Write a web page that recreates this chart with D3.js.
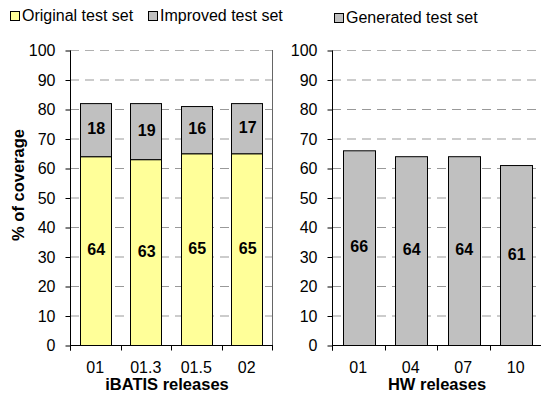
<!DOCTYPE html>
<html>
<head>
<meta charset="utf-8">
<script src="https://cdn.jsdelivr.net/npm/d3@7/dist/d3.min.js"></script>
<style>
  html, body { margin: 0; padding: 0; background: #fff; }
  svg { display: block; font-family: "Liberation Sans", Arial, sans-serif; }
</style>
</head>
<body>
<svg id="chart" width="541" height="396"></svg>
<script>
// iBATIS coverage: original vs. improved test sets
const ibatisReleases = ["01", "01.3", "01.5", "02"];
const originalCoverage = [64, 63, 65, 65];
const improvedCoverage = [18, 19, 16, 17];

// HW coverage: generated test set
const hwReleases = ["01", "04", "07", "10"];
const generatedCoverage = [66, 64, 64, 61];

const yTicks = [0, 10, 20, 30, 40, 50, 60, 70, 80, 90, 100];

const YELLOW = "#ffff99";
const GREY = "#c0c0c0";
const FONT = "Liberation Sans, Arial, sans-serif";

const svg = d3.select("#chart");

const y = d3.scaleLinear().domain([0, 100]).range([345, 50]);

function drawPanel(opts) {
  const g = svg.append("g");
  const x = d3.scaleBand()
    .domain(opts.categories)
    .range([opts.x0, opts.x1])
    .paddingInner(opts.pad)
    .paddingOuter(opts.pad / 2);

  // dashed gridlines
  g.append("g").selectAll("line")
    .data(yTicks.filter(d => d > 0))
    .join("line")
    .attr("x1", opts.x0).attr("x2", opts.x1)
    .attr("y1", d => y(d) + 0.5).attr("y2", d => y(d) + 0.5)
    .attr("stroke", d => d === 100 ? "#b0b0b0" : "#999")
    .attr("stroke-width", 1)
    .attr("stroke-dasharray", "9,6");

  // right border of plot area
  if (opts.rightBorder) {
    g.append("line")
      .attr("x1", opts.x1 + 0.5).attr("x2", opts.x1 + 0.5)
      .attr("y1", y(100)).attr("y2", y(0))
      .attr("stroke", "#666");
  }

  // stacked bars with centred value labels
  opts.series.forEach(s => {
    const rows = s.values.map((v, i) => ({ cat: opts.categories[i], lo: s.base ? s.base[i] : 0, v }));
    g.append("g").selectAll("rect")
      .data(rows)
      .join("rect")
      .attr("x", d => Math.round(x(d.cat)) + 0.5)
      .attr("width", Math.round(x.bandwidth()))
      .attr("y", d => y(d.lo + d.v) + 0.5)
      .attr("height", d => y(d.lo) - y(d.lo + d.v))
      .attr("fill", s.color)
      .attr("stroke", "#000")
      .attr("stroke-width", 1);

    g.append("g").selectAll("text")
      .data(rows)
      .join("text")
      .attr("x", d => x(d.cat) + x.bandwidth() / 2 + 1)
      .attr("y", d => y(d.lo + d.v / 2) - 1)
      .attr("dy", "0.36em")
      .attr("text-anchor", "middle")
      .attr("font-size", 16)
      .attr("font-weight", "bold")
      .attr("fill", "#000")
      .text(d => d.v);
  });

  // y axis
  const yAxis = g.append("g")
    .attr("transform", `translate(${opts.x0 + 0.5},0.5)`)
    .call(d3.axisLeft(y).tickValues(yTicks).tickSize(5).tickPadding(10).tickSizeOuter(0));
  yAxis.select(".domain").attr("stroke", "#000").attr("d", `M0,${y(100)}V${y(0) + 5}`);
  yAxis.selectAll(".tick line").attr("stroke", "#000");
  yAxis.selectAll("text").attr("font-size", 16).attr("font-family", FONT).attr("fill", "#000");

  // x axis: category labels plus ticks on band boundaries
  const xAxis = g.append("g")
    .attr("transform", `translate(0,${y(0) + 0.5})`)
    .call(d3.axisBottom(x).tickSize(0).tickPadding(16));
  xAxis.select(".domain").attr("stroke", "#000").attr("d", `M${opts.x0},0H${opts.x1 + 1}`);
  xAxis.selectAll("text").attr("font-size", 16).attr("font-family", FONT).attr("fill", "#000");

  const bounds = d3.range(opts.categories.length + 1).map(i => opts.x0 + i * x.step());
  xAxis.append("g").selectAll("line")
    .data(bounds)
    .join("line")
    .attr("x1", d => Math.round(d) + 0.5).attr("x2", d => Math.round(d) + 0.5)
    .attr("y1", 0).attr("y2", 5)
    .attr("stroke", "#000");

  // axis title
  svg.append("text")
    .attr("x", opts.titleX)
    .attr("y", 390)
    .attr("text-anchor", "middle")
    .attr("font-size", 16.5)
    .attr("font-weight", "bold")
    .text(opts.title);
}

drawPanel({
  categories: ibatisReleases,
  x0: 70, x1: 272, pad: 0.38,
  rightBorder: true,
  series: [
    { values: originalCoverage, color: YELLOW },
    { values: improvedCoverage, base: originalCoverage, color: GREY }
  ],
  title: "iBATIS releases",
  titleX: 167
});

drawPanel({
  categories: hwReleases,
  x0: 332, x1: 542, pad: 0.4,
  rightBorder: false,
  series: [
    { values: generatedCoverage, color: GREY }
  ],
  title: "HW releases",
  titleX: 437
});

// y axis title
svg.append("text")
  .attr("transform", "translate(24,185) rotate(-90)")
  .attr("text-anchor", "middle")
  .attr("font-size", 16.5)
  .attr("font-weight", "bold")
  .text("% of coverage");

// legends
const legendItems = [
  { label: "Original test set", color: YELLOW, x: 10, y: 11 },
  { label: "Improved test set", color: GREY, x: 148, y: 11 },
  { label: "Generated test set", color: GREY, x: 334, y: 13 }
];
const lg = svg.append("g").selectAll("g").data(legendItems).join("g")
  .attr("transform", d => `translate(${d.x},${d.y})`);
lg.append("rect")
  .attr("x", 0.5).attr("y", 0.5)
  .attr("width", 9).attr("height", 9)
  .attr("fill", d => d.color)
  .attr("stroke", "#000");
lg.append("text")
  .attr("x", 12).attr("y", 10)
  .attr("font-size", 16)
  .text(d => d.label);
</script>
</body>
</html>
